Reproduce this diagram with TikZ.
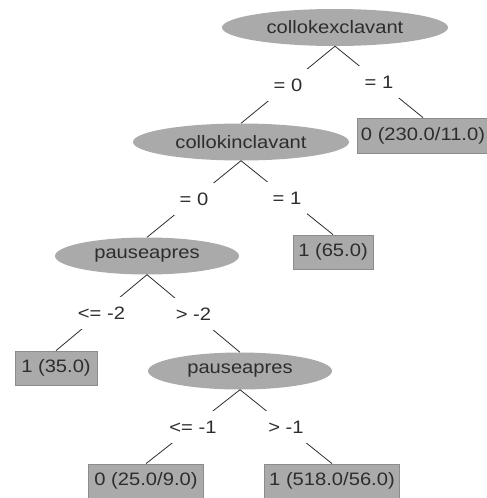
\documentclass[tikz,border=0pt]{standalone}
\usepackage{fontspec}
\setmainfont{Liberation Sans}[FakeStretch=1.12]
\usetikzlibrary{shapes.geometric}
\definecolor{nodegray}{RGB}{170,170,170}
\definecolor{boxline}{RGB}{140,140,140}
\definecolor{inkgray}{RGB}{45,45,45}
\begin{document}
\begin{tikzpicture}[x=1pt,y=-1pt,
  every node/.style={font=\fontsize{18}{20}\selectfont, text=inkgray},
  split/.style={ellipse, fill=nodegray, minimum height=37pt, inner sep=0pt},
  leaf/.style={rectangle, fill=nodegray, draw=boxline, line width=0.8pt, minimum height=34pt, inner sep=0pt},
  cond/.style={fill=white, inner xsep=6pt, inner ysep=9.5pt, text height=13pt, text depth=0pt},
  edge/.style={draw=inkgray, line width=0.8pt}]
\useasboundingbox (0,0) rectangle (487,498);
\clip (0,0) rectangle (487,498);
% split nodes
\node[split, minimum width=226pt] (root) at (335,27.5) {collokexclavant};
\node[split, minimum width=216pt] (n1) at (241,142) {collokinclavant};
\node[split, minimum width=184pt] (p1) at (147,256) {pauseapres};
\node[split, minimum width=184pt] (p2) at (240,371) {pauseapres};
% leaves
\node[leaf, minimum width=132pt, minimum height=35pt] (l1) at (423,135.5) {0 (230.0/11.0)};
\node[leaf, minimum width=80pt] (l2) at (333,252) {1 (65.0)};
\node[leaf, minimum width=82pt] (l3) at (56,368) {1 (35.0)};
\node[leaf, minimum width=115pt, minimum height=34pt] (l4) at (146,481) {0 (25.0/9.0)};
\node[leaf, minimum width=135pt, minimum height=34pt] (l5) at (332,481) {1 (518.0/56.0)};
% edges
\draw[edge] (root.south) -- node[cond] (c1) {= 0} (n1.north);
\draw[edge] (root.south) -- node[cond] (c2) {= 1} (l1.north);
\draw[edge] (n1.south) -- node[cond] (c3) {= 0} (p1.north);
\draw[edge] (n1.south) -- node[cond] (c4) {= 1} (l2.north);
\draw[edge] (p1.south) -- node[cond] (c5) {<= -2} (l3.north);
\draw[edge] (p1.south) -- node[cond] (c6) {> -2} (p2.north);
\draw[edge] (p2.south) -- node[cond] (c7) {<= -1} (l4.north);
\draw[edge] (p2.south) -- node[cond] (c8) {> -1} (l5.north);
\end{tikzpicture}
\end{document}
